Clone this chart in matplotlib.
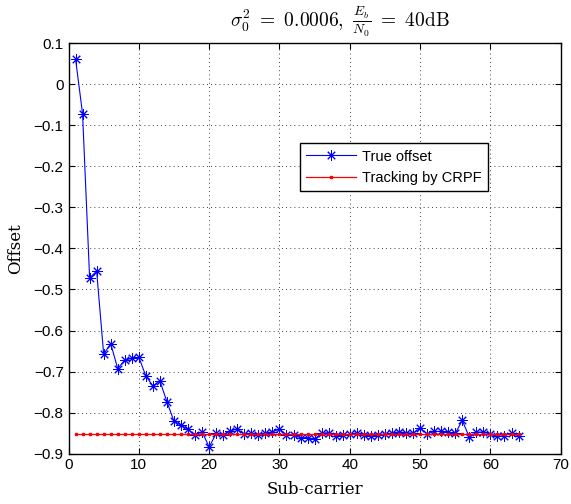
import matplotlib
matplotlib.use("Agg")
import matplotlib.pyplot as plt
import numpy as np

plt.rcParams['mathtext.fontset'] = 'cm'

subcarrier = list(range(1, 65))
true_offset = [0.062, -0.072, -0.472, -0.455, -0.658, -0.632, -0.693, -0.672, -0.668, -0.665,
               -0.711, -0.735, -0.723, -0.774, -0.821, -0.831, -0.841, -0.855, -0.847, -0.884,
               -0.851, -0.855, -0.845, -0.840, -0.853, -0.850, -0.854, -0.850, -0.847, -0.840,
               -0.855, -0.855, -0.861, -0.861, -0.865, -0.850, -0.849, -0.856, -0.855, -0.853,
               -0.849, -0.855, -0.858, -0.855, -0.852, -0.850, -0.847, -0.849, -0.850, -0.838,
               -0.852, -0.846, -0.846, -0.848, -0.851, -0.819, -0.860, -0.848, -0.847, -0.853,
               -0.858, -0.856, -0.850, -0.857]
crpf = [-0.853] * 64

xticks = [0, 10, 20, 30, 40, 50, 60, 70]
yticks = [0.1, 0, -0.1, -0.2, -0.3, -0.4, -0.5, -0.6, -0.7, -0.8, -0.9]
ytick_labels = ['0.1', '0', '\u22120.1', '\u22120.2', '\u22120.3', '\u22120.4', '\u22120.5',
                '\u22120.6', '\u22120.7', '\u22120.8', '\u22120.9']

fig = plt.figure(figsize=(5.71, 5.04), dpi=100)
ax = fig.add_axes([0.120, 0.100, 0.862, 0.814])

ax.plot(subcarrier, true_offset, color='blue', marker=(8, 2, 0), markersize=7.5, linewidth=0.8,
        markeredgewidth=0.7, label='True offset')
ax.plot(subcarrier, crpf, color='red', marker='s', markersize=2, linewidth=0.9,
        label='Tracking by CRPF')

ax.set_xlim(0, 70)
ax.set_ylim(-0.9, 0.1)
ax.set_xticks(xticks)
ax.set_yticks(yticks)
ax.set_yticklabels(ytick_labels)
ax.tick_params(direction='in', top=True, right=True, labelsize=11, length=4)
for lab in ax.get_xticklabels() + ax.get_yticklabels():
    lab.set_fontfamily('Liberation Sans')
ax.grid(True, linestyle=(0, (1, 4)), color='black', linewidth=0.6)
for s in ax.spines.values():
    s.set_linewidth(1.0)

ax.set_xlabel('Sub-carrier', fontfamily='DejaVu Serif', fontsize=12, labelpad=6)
ax.set_ylabel('Offset', fontfamily='DejaVu Serif', fontsize=12, labelpad=7)
ax.set_title(r'$\sigma_0^2\ =\ 0.0006,\ \frac{E_b}{N_0}\ =\ 40\mathrm{dB}$', fontsize=14, pad=12,
             x=0.551)

leg = ax.legend(loc='upper left', bbox_to_anchor=(0.455, 0.775), fancybox=False,
                edgecolor='black', framealpha=1, prop={'family': 'Liberation Sans', 'size': 10.5},
                handlelength=3.4, borderpad=0.45, labelspacing=0.5, handletextpad=0.4)
leg.get_frame().set_linewidth(1.0)

fig.savefig('out.png', dpi=100)
